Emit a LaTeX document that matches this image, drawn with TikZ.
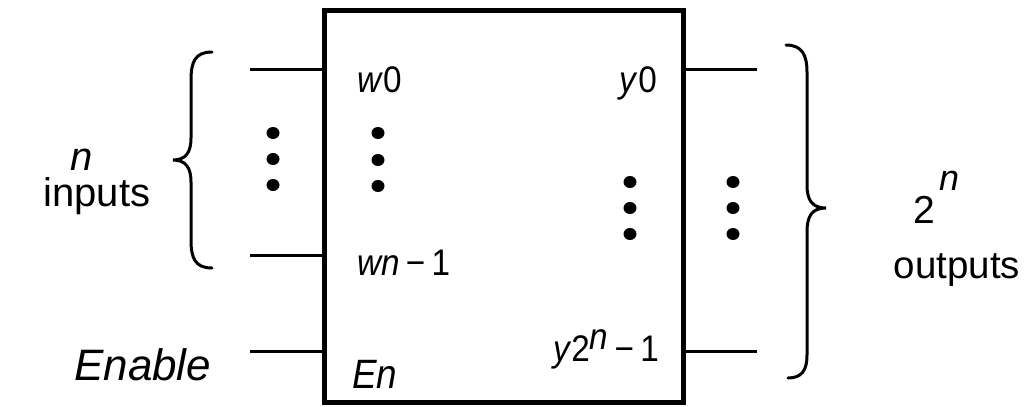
\documentclass[tikz,border=0pt]{standalone}
\usepackage{fontspec}
\setmainfont{Liberation Sans}
\newfontfamily\narrowsans[FakeStretch=0.9]{Liberation Sans}
\begin{document}
\begin{tikzpicture}[x=1bp,y=-1bp,
  wire/.style={line width=3bp},
  boxst/.style={draw,line width=5bp,minimum width=359bp,minimum height=392bp,inner sep=0pt},
  lab/.style={inner sep=0pt,font=\narrowsans\fontsize{37bp}{42bp}\selectfont},
  big/.style={inner sep=0pt,font=\fontsize{40bp}{46bp}\selectfont},
  brace/.style={line width=3bp,line cap=round},
  dotf/.style={fill=black}]
\useasboundingbox (0,0) rectangle (1027,406);
\node[boxst] (dec) at (503.5,206) {};
% wire ends
\coordinate (a0) at (250,69);
\coordinate (a1) at (250,255);
\coordinate (ae) at (250,351);
\coordinate (b0) at (757,69);
\coordinate (b1) at (757,351);
\draw[wire] (a0) -- (a0 -| dec.west);
\draw[wire] (a1) -- (a1 -| dec.west);
\draw[wire] (ae) -- (ae -| dec.west);
\draw[wire] (b0) -- (b0 -| dec.east);
\draw[wire] (b1) -- (b1 -| dec.east);
% inside labels
\node[lab,anchor=base west] (w0) at (357,92) {\textit{w}0};
\node[lab,anchor=base west] (wn) at (357,275) {\textit{wn}\,−\,1};
\node[lab,anchor=base west] (en) at (352,388) {\fontsize{41bp}{46bp}\selectfont\textit{En}};
\node[lab,anchor=base east] (y0) at (657,92) {\textit{y}0};
\node[lab,anchor=base east] (yl) at (659,361) {\textit{y}2\raisebox{12bp}{\textit{n}}\,−\,1};
% outside labels
\node[big,anchor=base] (nl) at (82,170) {\textit{n}};
\node[big,anchor=base] (inl) at (97,206) {inputs};
\node[big,anchor=base west] (two) at (913,223) {\fontsize{39bp}{44bp}\selectfont 2};
\node[big,anchor=base west] (tn) at (939,190) {\fontsize{36bp}{40bp}\selectfont\textit{n}};
\node[big,anchor=base] (outl) at (957,278) {\fontsize{38.5bp}{44bp}\selectfont outputs};
\node[big,anchor=base west] (enl) at (74,380) {\fontsize{44bp}{48bp}\selectfont\textit{Enable}};
% braces
\draw[brace] (212,52) .. controls (195,52) and (191,62) .. (191,80) -- (191,138)
  .. controls (191,152) and (186,160) .. (173,160)
  .. controls (186,160) and (191,168) .. (191,182) -- (191,240)
  .. controls (191,258) and (195,268) .. (212,268);
\draw[brace] (786,45) .. controls (802,45) and (807,55) .. (807,72) -- (807,185)
  .. controls (807,200) and (812,208) .. (826,208)
  .. controls (812,208) and (807,216) .. (807,232) -- (807,355)
  .. controls (807,370) and (802,378) .. (788,378);
% dots
\foreach \x/\y in {273/133,273/159,273/185,378/133,378/160,378/186,630/182,630/208,630/234,733/182,733/208,733/234}
  \fill[dotf] (\x,\y) ellipse (6.5bp and 6bp);
\end{tikzpicture}
\end{document}
